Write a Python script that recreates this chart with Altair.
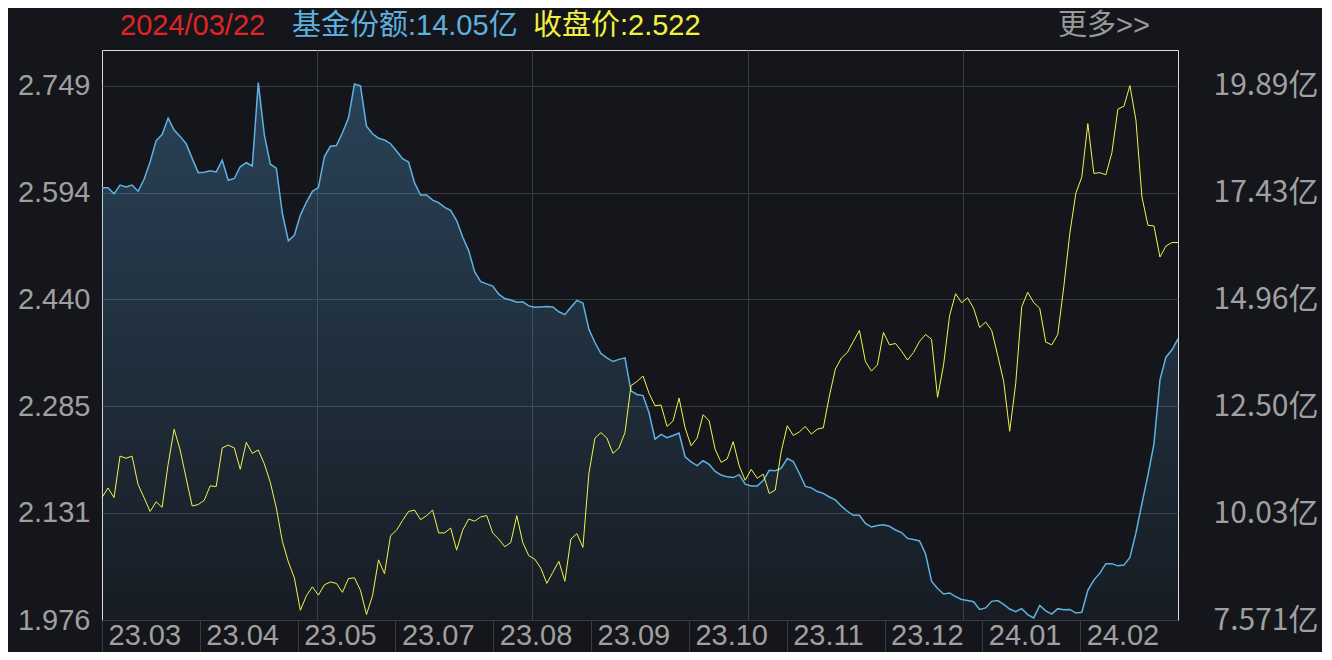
import altair as alt
import pandas as pd

# ---- data ----
month_labels = ["23.03", "23.04", "23.05", "23.07", "23.08", "23.09",
                "23.10", "23.11", "23.12", "24.01", "24.02"]

price = [
    2.153, 2.167, 2.153, 2.213, 2.210, 2.213, 2.172, 2.153, 2.133, 2.147,
    2.139, 2.201, 2.252, 2.222, 2.181, 2.141, 2.143, 2.149, 2.170, 2.169,
    2.225, 2.229, 2.225, 2.194, 2.233, 2.217, 2.222, 2.202, 2.175, 2.138,
    2.090, 2.060, 2.037, 1.990, 2.011, 2.024, 2.012, 2.027, 2.031, 2.029,
    2.016, 2.036, 2.037, 2.019, 1.984, 2.011, 2.063, 2.043, 2.098, 2.106,
    2.120, 2.133, 2.135, 2.121, 2.127, 2.135, 2.102, 2.102, 2.109, 2.077,
    2.106, 2.122, 2.119, 2.125, 2.127, 2.102, 2.093, 2.082, 2.088, 2.127,
    2.088, 2.069, 2.064, 2.051, 2.029, 2.045, 2.061, 2.032, 2.093, 2.101,
    2.081, 2.188, 2.239, 2.247, 2.239, 2.217, 2.225, 2.247, 2.315, 2.321,
    2.329, 2.304, 2.286, 2.287, 2.256, 2.264, 2.297, 2.254, 2.228, 2.239,
    2.273, 2.264, 2.223, 2.204, 2.209, 2.234, 2.199, 2.178, 2.194, 2.181,
    2.187, 2.159, 2.164, 2.220, 2.257, 2.243, 2.248, 2.256, 2.245, 2.252,
    2.254, 2.300, 2.339, 2.355, 2.363, 2.379, 2.395, 2.350, 2.336, 2.345,
    2.392, 2.374, 2.376, 2.365, 2.352, 2.363, 2.379, 2.389, 2.382, 2.298,
    2.345, 2.416, 2.448, 2.435, 2.442, 2.427, 2.399, 2.407, 2.395, 2.359,
    2.321, 2.249, 2.318, 2.429, 2.450, 2.435, 2.427, 2.378, 2.374, 2.389,
    2.458, 2.535, 2.593, 2.617, 2.694, 2.622, 2.623, 2.620, 2.652, 2.715,
    2.719, 2.749, 2.699, 2.588, 2.547, 2.546, 2.501, 2.517, 2.522, 2.522,
]

shares = [
    17.536, 17.536, 17.392, 17.595, 17.553, 17.595, 17.451, 17.730, 18.126, 18.616,
    18.759, 19.139, 18.861, 18.717, 18.548, 18.211, 17.882, 17.890, 17.924, 17.899,
    18.169, 17.705, 17.747, 18.017, 18.110, 18.034, 19.958, 18.759, 18.076, 17.983,
    16.945, 16.312, 16.439, 16.903, 17.198, 17.451, 17.536, 18.253, 18.489, 18.506,
    18.801, 19.139, 19.924, 19.882, 18.953, 18.776, 18.675, 18.633, 18.548, 18.380,
    18.202, 18.126, 17.645, 17.367, 17.367, 17.249, 17.190, 17.080, 17.013, 16.776,
    16.397, 16.084, 15.595, 15.367, 15.317, 15.266, 15.080, 14.979, 14.945, 14.895,
    14.903, 14.810, 14.777, 14.785, 14.794, 14.785, 14.675, 14.608, 14.777, 14.937,
    14.878, 14.270, 13.967, 13.713, 13.612, 13.528, 13.578, 13.612, 12.853, 12.768,
    12.743, 12.346, 11.739, 11.849, 11.773, 11.823, 11.882, 11.334, 11.216, 11.131,
    11.241, 11.157, 10.996, 10.912, 10.870, 10.853, 10.920, 10.701, 10.659, 10.659,
    10.785, 11.022, 11.013, 11.072, 11.292, 11.224, 10.954, 10.650, 10.617, 10.532,
    10.490, 10.406, 10.338, 10.195, 10.077, 9.984, 9.984, 9.798, 9.714, 9.748,
    9.764, 9.731, 9.646, 9.587, 9.452, 9.427, 9.393, 9.098, 8.465, 8.296,
    8.170, 8.195, 8.111, 8.043, 8.018, 7.993, 7.815, 7.849, 8.001, 8.018,
    7.933, 7.824, 7.765, 7.832, 7.697, 7.620, 7.908, 7.782, 7.706, 7.832,
    7.807, 7.815, 7.731, 7.748, 8.254, 8.490, 8.651, 8.870, 8.870, 8.819,
    8.836, 9.013, 9.579, 10.254, 10.912, 11.629, 13.106, 13.629, 13.798, 14.05,
]

price_ticks = [1.976, 2.131, 2.285, 2.440, 2.594, 2.749]
share_ticks = [7.571, 10.03, 12.50, 14.96, 17.43, 19.89]
header_date = "2024/03/22"
more_text = "更多>>"

# ---- styling ----
FONT = "Noto Sans CJK SC"
NUM_FONT = "Liberation Sans"
HEAD_FONT = "Liberation Sans, Noto Sans CJK SC"
BG = "#14161b"
GRID = "#383b41"
LABEL = "#a0a0a0"
FS = 30
NUM_FS = 29

n = len(price)
df = pd.DataFrame({"t": list(range(n)), "price": price, "shares": shares})

x_scale = alt.Scale(domain=[0, n - 1], nice=False, zero=False, padding=0)
cell_vals = [(n - 1) * k / len(month_labels) for k in range(len(month_labels))]
grid_vals = [(n - 1) * k / 5 for k in range(1, 5)]
label_expr = ("[" + ",".join(f"'{m}'" for m in month_labels) + "]"
              + f"[round(datum.value*{len(month_labels)}/{n - 1})]")

area_fill = alt.LinearGradient(
    gradient="linear",
    stops=[alt.GradientStop(color="rgba(92,172,232,0.42)", offset=0),
           alt.GradientStop(color="rgba(92,172,232,0.06)", offset=1)],
    x1=1, x2=1, y1=0, y2=1,
)

share_area = alt.Chart(df).mark_area(
    color=area_fill,
    line={"color": "#5eb2e2", "strokeWidth": 1.5},
).encode(
    x=alt.X("t:Q", scale=x_scale,
            axis=alt.Axis(orient="bottom", values=cell_vals, labelExpr=label_expr,
                          grid=False, domain=False, ticks=True, tickSize=40,
                          tickColor=GRID, tickWidth=1, labelAlign="left",
                          labelBaseline="middle", labelOffset=6, labelPadding=-25,
                          labelColor=LABEL, labelFontSize=NUM_FS, labelFont=NUM_FONT,
                          labelFlush=False, labelOverlap=False, title=None)),
    y=alt.Y("shares:Q", scale=alt.Scale(domain=[7.571, 20.708], nice=False, zero=False),
            axis=alt.Axis(orient="right", values=share_ticks,
                          labelExpr="format(datum.value, '.4r') + '亿'",
                          grid=False, domain=False, ticks=False, labelPadding=140,
                          labelColor=LABEL, labelFontSize=FS, labelFont=FONT,
                          labelAlign="right", labelBaseline="middle",
                          labelOverlap=False, title=None)),
    y2=alt.Y2Datum(7.571),
)

price_line = alt.Chart(df).mark_line(color="#f4f44c", strokeWidth=1).encode(
    x=alt.X("t:Q", scale=x_scale,
            axis=alt.Axis(orient="top", values=grid_vals, grid=True, gridColor=GRID,
                          labels=False, ticks=False, domain=False, title=None)),
    y=alt.Y("price:Q", scale=alt.Scale(domain=[1.976, 2.8005], nice=False, zero=False),
            axis=alt.Axis(orient="left", values=price_ticks, format=".3f", grid=True,
                          gridColor=GRID, domain=False, ticks=False, labelPadding=12,
                          labelColor=LABEL, labelFontSize=NUM_FS, labelFont=NUM_FONT,
                          labelOverlap=False, title=None)),
)


def header(text, color, x):
    return alt.Chart(alt.Data(values=[{}])).mark_text(
        text=text, color=color, fontSize=29, font=HEAD_FONT, align="left",
        baseline="alphabetic"
    ).encode(x=alt.value(x), y=alt.value(-15))


headers = [
    header(header_date, "#e02424", 18),
    header(f"基金份额:{shares[-1]:.2f}亿", "#5eb0de", 190),
    header(f"收盘价:{price[-1]:.3f}", "#f2f040", 431),
    header(more_text, "#9a9a9a", 956),
]

chart = alt.layer(share_area, price_line, *headers).resolve_scale(
    y="independent"
).resolve_axis(
    x="independent"
).properties(
    width=1076, height=570, background=BG,
    padding={"left": 94, "top": 42, "right": 144, "bottom": 32},
    autosize=alt.AutoSizeParams(type="none"),
).configure_view(stroke=GRID, strokeWidth=1).configure(font=FONT)

chart.save("out.html", embed_options={"renderer": "svg", "actions": False})
